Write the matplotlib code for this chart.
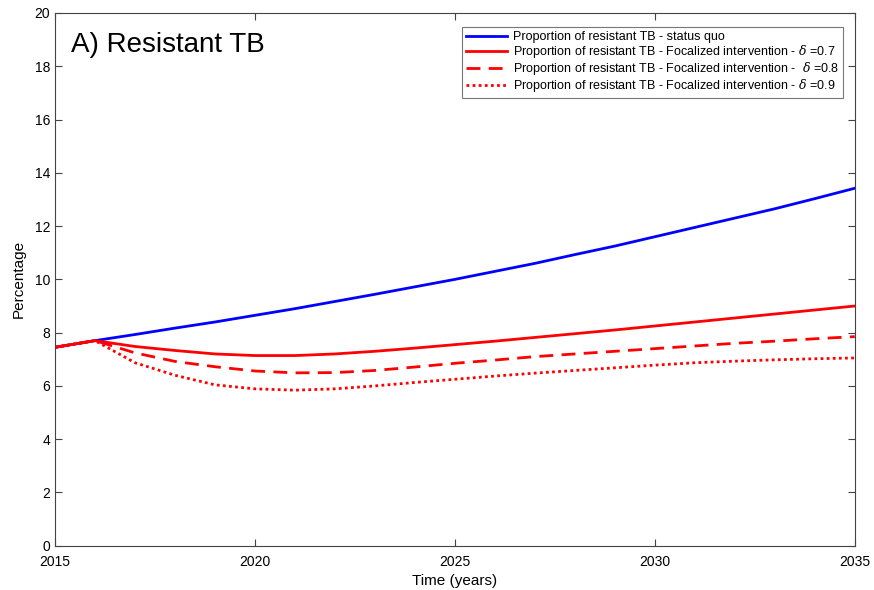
import numpy as np
import matplotlib.pyplot as plt

plt.rcParams['font.family'] = ['Liberation Sans', 'DejaVu Sans']
plt.rcParams['mathtext.fontset'] = 'dejavuserif'

# Data
years = np.arange(2015, 2036)
status_quo = [7.45, 7.70, 7.93, 8.17, 8.40, 8.65, 8.90, 9.17, 9.44, 9.72, 10.00,
              10.30, 10.60, 10.93, 11.25, 11.60, 11.95, 12.30, 12.65, 13.03, 13.42]
delta_07 = [7.45, 7.70, 7.48, 7.33, 7.20, 7.14, 7.14, 7.20, 7.30, 7.42, 7.55,
            7.68, 7.82, 7.96, 8.10, 8.25, 8.40, 8.55, 8.70, 8.85, 9.00]
delta_08 = [7.45, 7.70, 7.24, 6.92, 6.72, 6.56, 6.49, 6.50, 6.58, 6.71, 6.85,
            6.97, 7.10, 7.20, 7.30, 7.40, 7.50, 7.60, 7.68, 7.77, 7.85]
delta_09 = [7.45, 7.70, 6.87, 6.40, 6.04, 5.89, 5.84, 5.89, 6.00, 6.13, 6.25,
            6.37, 6.48, 6.58, 6.68, 6.78, 6.87, 6.93, 6.98, 7.02, 7.05]

labels = ['Proportion of resistant TB - status quo',
          r'Proportion of resistant TB - Focalized intervention - $\delta$ =0.7',
          r'Proportion of resistant TB - Focalized intervention -  $\delta$ =0.8',
          r'Proportion of resistant TB - Focalized intervention - $\delta$ =0.9']

fig = plt.figure(figsize=(8.74, 5.9), dpi=100)
ax = fig.add_axes([0.063, 0.075, 0.915, 0.903])

ax.plot(years, status_quo, color='b', lw=2, label=labels[0])
ax.plot(years, delta_07, color='r', lw=2, label=labels[1])
ax.plot(years, delta_08, color='r', lw=2, ls=(0, (5, 3)), label=labels[2])
ax.plot(years, delta_09, color='r', lw=2, ls=(0, (1, 1.2)), label=labels[3])

ax.set_xlim(2015, 2035)
ax.set_ylim(0, 20)
ax.set_xticks([2015, 2020, 2025, 2030, 2035])
ax.set_yticks(np.arange(0, 21, 2))
ax.tick_params(direction='in', top=True, right=True, labelsize=10, length=5, color='#444444')
ax.tick_params(axis='x', pad=7)
for s in ax.spines.values():
    s.set_color('#444444')
    s.set_linewidth(0.8)
ax.set_xlabel('Time (years)', fontsize=11, labelpad=3)
ax.set_ylabel('Percentage', fontsize=11, labelpad=6)

ax.text(0.02, 0.965, 'A) Resistant TB', transform=ax.transAxes, fontsize=20, va='top')

leg = ax.legend(loc='upper right', bbox_to_anchor=(0.993, 0.985), fontsize=9,
                handlelength=3.3, fancybox=False, edgecolor='#555555',
                borderpad=0.3, labelspacing=0.0, handletextpad=0.5, borderaxespad=0.5)
leg.get_frame().set_linewidth(0.8)

fig.savefig('out.png', dpi=100)
